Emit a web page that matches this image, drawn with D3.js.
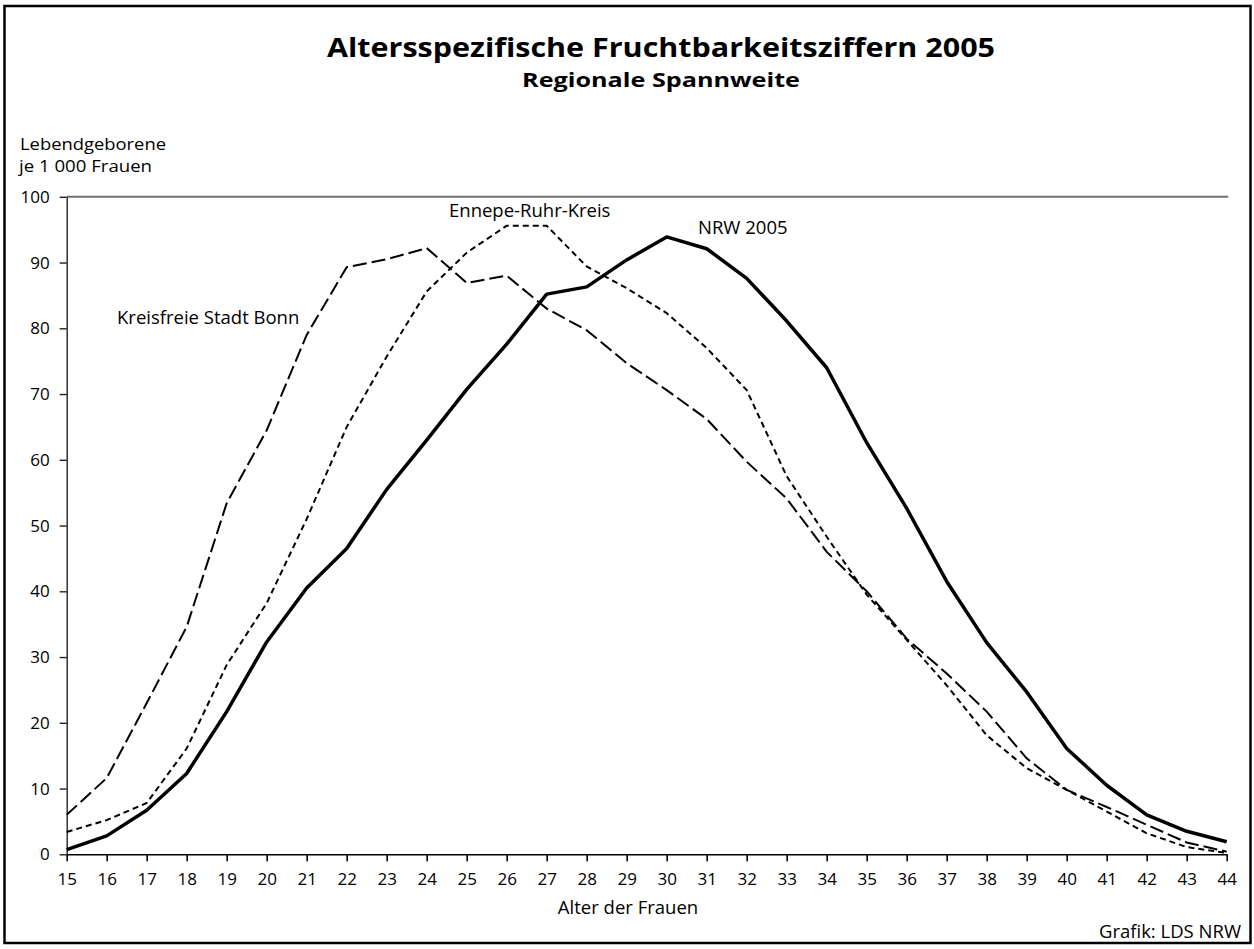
<!DOCTYPE html>
<html>
<head>
<meta charset="utf-8">
<script src="https://cdn.jsdelivr.net/npm/d3@7"></script>
<style>
  html, body { margin: 0; padding: 0; background: #fff; }
  svg { display: block; }
  text { font-family: "Open Sans", "Noto Sans", sans-serif; fill: #000; }
</style>
</head>
<body>
<svg id="chart" width="1254" height="949"></svg>
<script>
// ---- data ----
const ages = [15,16,17,18,19,20,21,22,23,24,25,26,27,28,29,30,31,32,33,34,35,36,37,38,39,40,41,42,43,44];
const nrw2005 = [0.7,2.8,6.7,12.3,21.7,32.3,40.5,46.5,55.5,63.0,70.7,77.6,85.2,86.3,90.4,93.9,92.1,87.6,81.1,74.0,62.6,52.6,41.5,32.2,24.7,16.1,10.5,6.0,3.5,1.9];
const bonn = [6.0,11.6,23.0,34.6,53.4,64.5,79.0,89.3,90.5,92.2,86.9,88.0,83.0,79.7,74.7,70.6,66.2,59.7,54.1,46.0,40.0,32.8,27.5,21.7,14.6,9.8,7.2,4.5,1.8,0.4];
const ennepe = [3.4,5.2,7.8,16.1,28.8,38.2,51.0,65.0,75.7,85.6,91.5,95.6,95.6,89.4,86.1,82.3,77.0,70.6,57.5,48.3,39.5,32.6,25.7,18.1,13.1,9.8,6.5,3.2,1.1,0.2];
const yTicks = [0,10,20,30,40,50,60,70,80,90,100];
const seriesNames = ["Kreisfreie Stadt Bonn","Ennepe-Ruhr-Kreis","NRW 2005"];
const titleText = "Altersspezifische Fruchtbarkeitsziffern 2005";
const subtitleText = "Regionale Spannweite";
const yLabel = ["Lebendgeborene","je 1 000 Frauen"];
const xLabel = "Alter der Frauen";
const source = "Grafik: LDS NRW";

// ---- drawing ----
const svg = d3.select("#chart");
const x = d3.scaleLinear().domain([15,44]).range([66.7,1226.7]);
const y = d3.scaleLinear().domain([0,100]).range([854.3,196.8]);
const LBL = 18.5;

// outer frame
svg.append("rect").attr("x",4.5).attr("y",6).attr("width",1246).attr("height",937)
  .attr("fill","none").attr("stroke","#000").attr("stroke-width",2.5);

// title
svg.append("text").attr("x",661).attr("y",57).attr("text-anchor","middle")
  .attr("font-size",27).attr("font-weight","bold")
  .attr("textLength",668).attr("lengthAdjust","spacingAndGlyphs").text(titleText);
svg.append("text").attr("x",661).attr("y",87).attr("text-anchor","middle")
  .attr("font-size",20).attr("font-weight","bold")
  .attr("textLength",278).attr("lengthAdjust","spacingAndGlyphs").text(subtitleText);

// y-axis title (two lines)
svg.append("text").attr("x",20).attr("y",150).attr("font-size",16)
  .attr("textLength",146).attr("lengthAdjust","spacingAndGlyphs").text(yLabel[0]);
svg.append("text").attr("x",19).attr("y",171.5).attr("font-size",16)
  .attr("textLength",133).attr("lengthAdjust","spacingAndGlyphs").text(yLabel[1]);

// top gridline at 100
svg.append("line").attr("x1",x(15)).attr("x2",x(44)+1.5).attr("y1",y(100)).attr("y2",y(100))
  .attr("stroke","#707070").attr("stroke-width",2);

// y axis
const yAxis = svg.append("g").attr("transform",`translate(${x(15)},0)`)
  .call(d3.axisLeft(y).tickValues(yTicks).tickSize(7).tickSizeOuter(0).tickPadding(10));
yAxis.select(".domain").attr("stroke","#222").attr("stroke-width",1.4);
yAxis.selectAll(".tick line").attr("stroke","#222").attr("stroke-width",1.4);
yAxis.selectAll(".tick text").attr("font-size",17).attr("font-family","'Open Sans', sans-serif").attr("fill","#000");

// x axis
const xAxis = svg.append("g").attr("transform",`translate(0,${y(0)})`)
  .call(d3.axisBottom(x).tickValues(ages).tickFormat(d3.format("d")).tickSize(7).tickSizeOuter(0).tickPadding(12));
xAxis.select(".domain").attr("stroke","#000").attr("stroke-width",1.6);
xAxis.selectAll(".tick line").attr("stroke","#000").attr("stroke-width",1.6);
xAxis.selectAll(".tick text").attr("font-size",17).attr("font-family","'Open Sans', sans-serif").attr("fill","#000");

svg.append("text").attr("x",628).attr("y",914).attr("text-anchor","middle").attr("font-size",LBL).text(xLabel);
svg.append("text").attr("x",1241).attr("y",938).attr("text-anchor","end").attr("font-size",LBL).text(source);

// lines
const line = d3.line().x((d,i)=>x(ages[i])).y(d=>y(d));
svg.append("path").datum(bonn).attr("d",line).attr("fill","none")
  .attr("stroke","#000").attr("stroke-width",2).attr("stroke-dasharray","14,5");
svg.append("path").datum(ennepe).attr("d",line).attr("fill","none")
  .attr("stroke","#000").attr("stroke-width",2).attr("stroke-dasharray","6,4");
svg.append("path").datum(nrw2005).attr("d",line).attr("fill","none")
  .attr("stroke","#000").attr("stroke-width",3.5).attr("stroke-linejoin","round");

// series labels
svg.append("text").attr("x",117).attr("y",324).attr("font-size",LBL).text(seriesNames[0]);
svg.append("text").attr("x",449).attr("y",217).attr("font-size",LBL).text(seriesNames[1]);
svg.append("text").attr("x",698).attr("y",234).attr("font-size",LBL).text(seriesNames[2]);
</script>
</body>
</html>
